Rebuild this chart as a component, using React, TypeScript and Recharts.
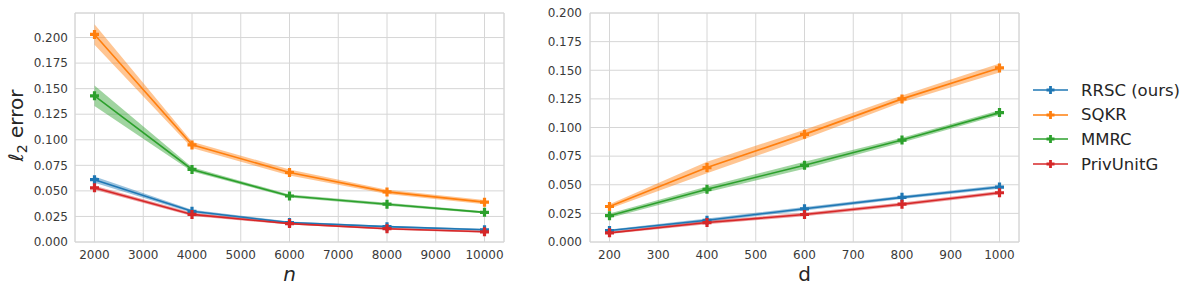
import React from "react";
import { Area, CartesianGrid, ComposedChart, Line, ReferenceArea, XAxis, YAxis } from "recharts";

// left panel: error vs number of users n
const nValues = [2000, 4000, 6000, 8000, 10000];
const nTicks = [2000, 3000, 4000, 5000, 6000, 7000, 8000, 9000, 10000];
const nRRSC = [0.061, 0.03, 0.019, 0.015, 0.012];
const nSQKR = [0.203, 0.095, 0.068, 0.049, 0.039];
const nMMRC = [0.143, 0.071, 0.045, 0.037, 0.029];
const nPriv = [0.053, 0.027, 0.018, 0.013, 0.01];
const nRRSCErr = [0.003, 0.0015, 0.001, 0.001, 0.001];
const nSQKRErr = [0.01, 0.003, 0.003, 0.002, 0.002];
const nMMRCErr = [0.01, 0.002, 0.0015, 0.0015, 0.001];
const nPrivErr = [0.002, 0.0015, 0.001, 0.001, 0.001];

// right panel: error vs dimension d
const dValues = [200, 400, 600, 800, 1000];
const dTicks = [200, 300, 400, 500, 600, 700, 800, 900, 1000];
const dRRSC = [0.01, 0.019, 0.029, 0.039, 0.048];
const dSQKR = [0.031, 0.065, 0.094, 0.125, 0.152];
const dMMRC = [0.023, 0.046, 0.067, 0.089, 0.113];
const dPriv = [0.008, 0.017, 0.024, 0.033, 0.043];
const dRRSCErr = [0.001, 0.0015, 0.0015, 0.0015, 0.0015];
const dSQKRErr = [0.002, 0.005, 0.004, 0.003, 0.004];
const dMMRCErr = [0.002, 0.0025, 0.003, 0.002, 0.002];
const dPrivErr = [0.001, 0.0015, 0.0015, 0.0015, 0.0015];

const yTicks = [0, 0.025, 0.05, 0.075, 0.1, 0.125, 0.15, 0.175, 0.2];

const methods = [
  { key: "rrsc", name: "RRSC (ours)", color: "#1f77b4" },
  { key: "sqkr", name: "SQKR", color: "#ff7f0e" },
  { key: "mmrc", name: "MMRC", color: "#2ca02c" },
  { key: "priv", name: "PrivUnitG", color: "#d62728" },
];

const FONT = "'DejaVu Sans', sans-serif";
const GRID = "#d6d6d6";

function buildRows(xs: number[], series: number[][], errs: number[][]) {
  return xs.map((x, i) => {
    const row: Record<string, any> = { x };
    methods.forEach((m, k) => {
      row[m.key] = series[k][i];
      row[m.key + "Band"] = [series[k][i] - errs[k][i], series[k][i] + errs[k][i]];
    });
    return row;
  });
}

const nRows = buildRows(nValues, [nRRSC, nSQKR, nMMRC, nPriv], [nRRSCErr, nSQKRErr, nMMRCErr, nPrivErr]);
const dRows = buildRows(dValues, [dRRSC, dSQKR, dMMRC, dPriv], [dRRSCErr, dSQKRErr, dMMRCErr, dPrivErr]);

function plusPath(cx: number, cy: number, r: number, t: number) {
  return `M${cx - t},${cy - r}H${cx + t}V${cy - t}H${cx + r}V${cy + t}H${cx + t}V${cy + r}H${cx - t}V${cy + t}H${cx - r}V${cy - t}H${cx - t}Z`;
}

const PlusDot = (props: any) => {
  const { cx, cy, stroke } = props;
  if (cx == null || cy == null) return null;
  return <path d={plusPath(cx, cy, 4.5, 1.6)} fill={stroke} stroke="none" />;
};

const tickStyle = { fontSize: 12, fill: "#3a3a3a", fontFamily: FONT };

// legend sits to the right of the d panel, no frame
const LegendBox = () => (
  <div style={{ position: "absolute", left: 1033, top: 78, fontFamily: FONT }}>
    {methods.map((m) => (
      <div key={m.key} style={{ display: "flex", alignItems: "center", height: 24.6 }}>
        <svg width={48} height={14}>
          <line x1={0} x2={35} y1={7} y2={7} stroke={m.color} strokeWidth={1.5} />
          <path d={plusPath(17.5, 7, 4, 1.4)} fill={m.color} />
        </svg>
        <span style={{ fontSize: 16.5, color: "#262626", whiteSpace: "nowrap" }}>{m.name}</span>
      </div>
    ))}
  </div>
);

function Series() {
  return [
    ...methods.map((m) => (
      <Area
        key={m.key + "band"}
        dataKey={m.key + "Band"}
        stroke="none"
        fill={m.color}
        fillOpacity={0.45}
        legendType="none"
        isAnimationActive={false}
        activeDot={false}
      />
    )),
    ...methods.map((m) => (
      <Line
        key={m.key}
        dataKey={m.key}
        name={m.name}
        stroke={m.color}
        strokeWidth={1.6}
        dot={<PlusDot />}
        activeDot={false}
        isAnimationActive={false}
      />
    )),
  ];
}

export default function App() {
  return (
    <div style={{ position: "absolute", left: 0, top: 0, width: 1196, height: 293, background: "#fff" }}>
      <div style={{ position: "absolute", left: 0, top: 0 }}>
        <ComposedChart width={520} height={293} data={nRows} margin={{ top: 13, right: 16, bottom: 0, left: 0 }}>
          <CartesianGrid stroke={GRID} strokeWidth={1} />
          <ReferenceArea x1={1600} x2={10400} y1={0} y2={0.224} fill="none" stroke={GRID} strokeWidth={1} />
          <XAxis
            dataKey="x"
            type="number"
            domain={[1600, 10400]}
            ticks={nTicks}
            height={51}
            tickSize={0}
            tickMargin={8}
            axisLine={false}
            tick={tickStyle}
            label={(p: any) => (
              <text x={p.viewBox.x + p.viewBox.width / 2} y={p.viewBox.y + 39} textAnchor="middle" fontSize={20} fontStyle="italic" fontFamily={FONT} fill="#262626">
                n
              </text>
            )}
          />
          <YAxis
            type="number"
            domain={[0, 0.224]}
            ticks={yTicks}
            width={75}
            tickSize={0}
            tickMargin={7}
            axisLine={false}
            tick={tickStyle}
            tickFormatter={(v: number) => v.toFixed(3)}
            label={(p: any) => {
              const cx = 23;
              const cy = p.viewBox.y + p.viewBox.height / 2 - 2;
              return (
                <text transform={`translate(${cx},${cy}) rotate(-90)`} textAnchor="middle" fontSize={20} fontFamily={FONT} fill="#262626">
                  <tspan fontStyle="italic">ℓ</tspan>
                  <tspan fontSize={14} dy={4}>2</tspan>
                  <tspan dy={-4}> error</tspan>
                </text>
              );
            }}
          />
          {Series()}
        </ComposedChart>
      </div>
      <div style={{ position: "absolute", left: 520, top: 0 }}>
        <ComposedChart width={676} height={293} data={dRows} margin={{ top: 13, right: 177, bottom: 0, left: 0 }}>
          <CartesianGrid stroke={GRID} strokeWidth={1} />
          <ReferenceArea x1={160} x2={1040} y1={0} y2={0.2} fill="none" stroke={GRID} strokeWidth={1} />
          <XAxis
            dataKey="x"
            type="number"
            domain={[160, 1040]}
            ticks={dTicks}
            height={51}
            tickSize={0}
            tickMargin={8}
            axisLine={false}
            tick={tickStyle}
            label={(p: any) => (
              <text x={p.viewBox.x + p.viewBox.width / 2} y={p.viewBox.y + 39} textAnchor="middle" fontSize={20} fontFamily={FONT} fill="#262626">
                d
              </text>
            )}
          />
          <YAxis
            type="number"
            domain={[0, 0.2]}
            ticks={yTicks}
            width={70}
            tickSize={0}
            tickMargin={8}
            axisLine={false}
            tick={tickStyle}
            tickFormatter={(v: number) => v.toFixed(3)}
          />
          {Series()}
        </ComposedChart>
      </div>
      <LegendBox />
    </div>
  );
}
